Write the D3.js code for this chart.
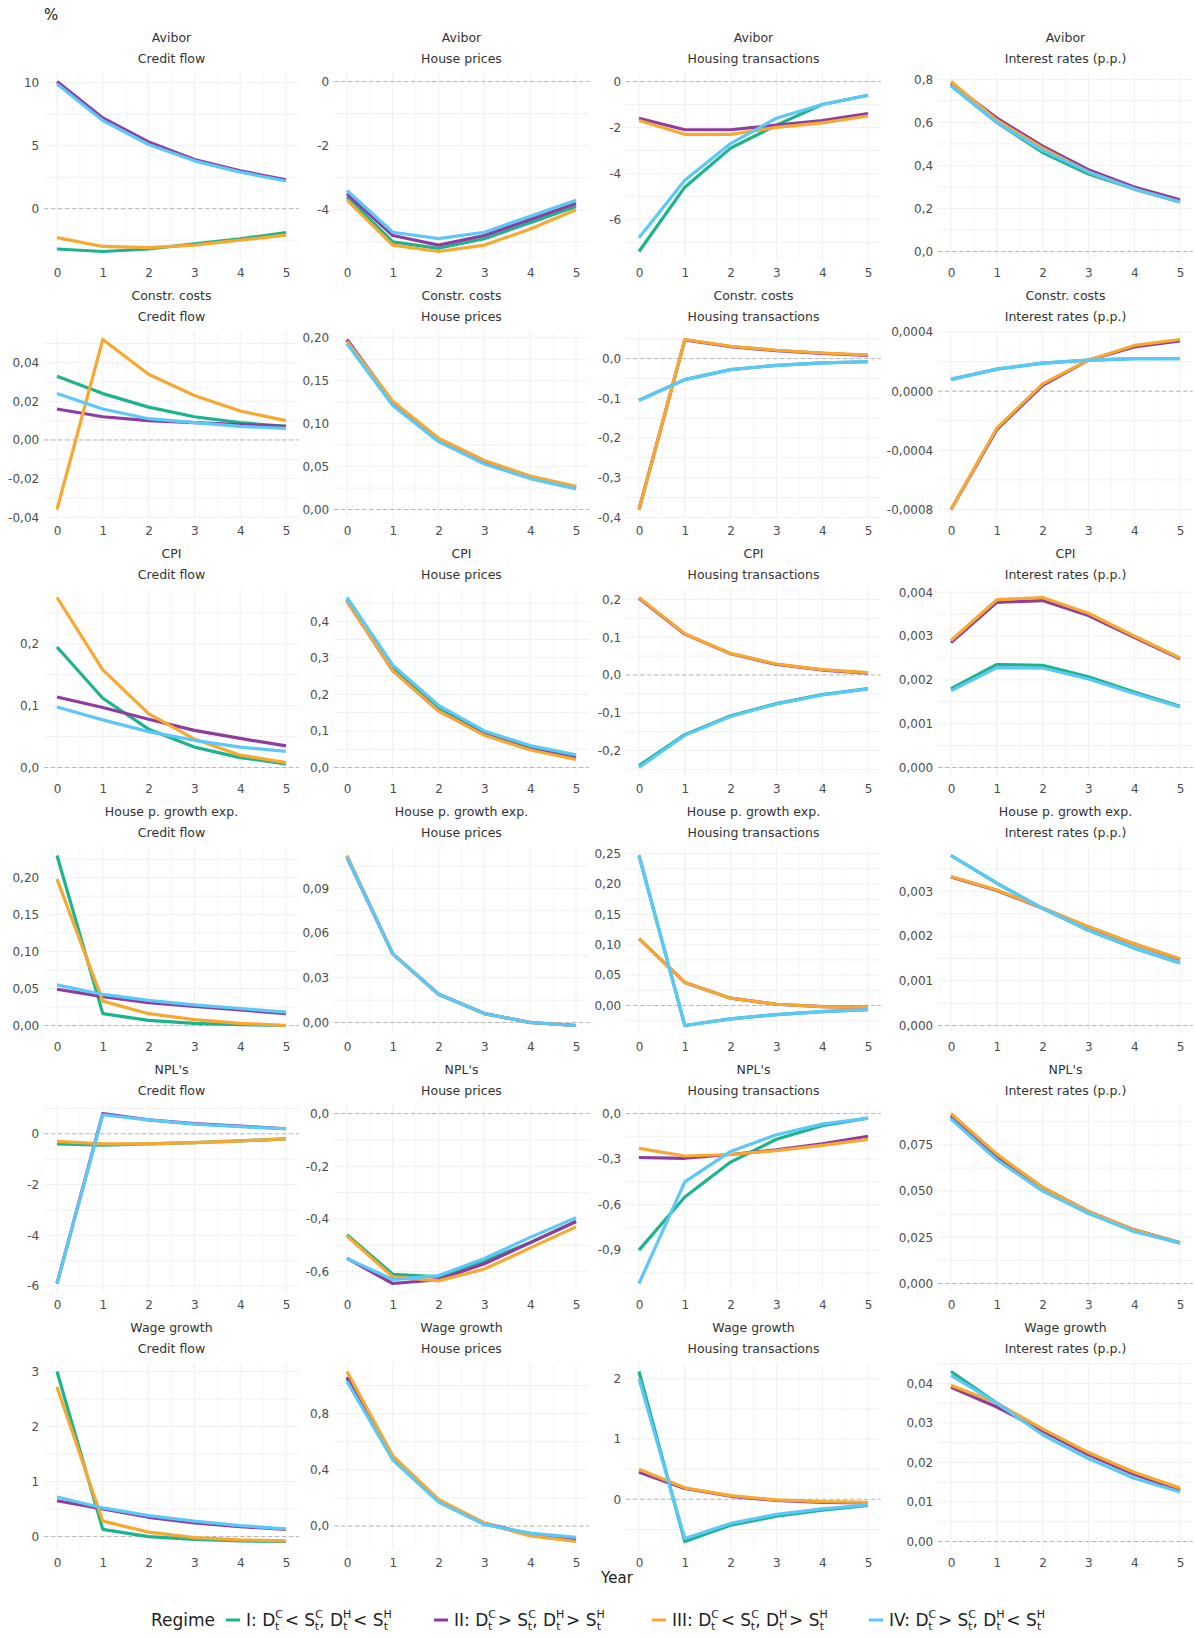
<!DOCTYPE html>
<html><head><meta charset="utf-8">
<script src="https://cdn.jsdelivr.net/npm/d3@7"></script>
<style>
body{margin:0;background:#fff;font-family:"DejaVu Sans",Verdana,sans-serif;}
</style></head>
<body><div id="chart"></div>
<script>
var years = [0, 1, 2, 3, 4, 5];
var shocks = ["Avibor", "Constr. costs", "CPI", "House p. growth exp.", "NPL's", "Wage growth"];
var responses = ["Credit flow", "House prices", "Housing transactions", "Interest rates (p.p.)"];
var regimes = ["I", "II", "III", "IV"];
var colors = ["#1db38c", "#8e3c9e", "#f7a830", "#5cc8f7"];

// values[row][col] = [I, II, III, IV]
var avibor = [
  [[-3.2,-3.4,-3.2,-2.8,-2.4,-1.9],[10.1,7.2,5.3,3.9,3.0,2.3],[-2.3,-3.0,-3.1,-2.9,-2.5,-2.1],[9.9,7.0,5.1,3.8,2.9,2.2]],
  [[-3.6,-5.0,-5.2,-4.9,-4.4,-3.9],[-3.5,-4.8,-5.1,-4.8,-4.3,-3.8],[-3.7,-5.1,-5.3,-5.1,-4.6,-4.0],[-3.4,-4.7,-4.9,-4.7,-4.2,-3.7]],
  [[-7.4,-4.6,-2.9,-1.9,-1.0,-0.6],[-1.6,-2.1,-2.1,-1.9,-1.7,-1.4],[-1.7,-2.3,-2.3,-2.0,-1.8,-1.5],[-6.8,-4.3,-2.7,-1.6,-1.0,-0.6]],
  [[0.77,0.60,0.46,0.36,0.29,0.23],[0.78,0.62,0.49,0.38,0.30,0.24],[0.79,0.61,0.48,0.37,0.29,0.23],[0.77,0.60,0.47,0.37,0.29,0.23]]
];
var constr = [
  [[0.033,0.024,0.017,0.012,0.009,0.007],[0.016,0.012,0.010,0.009,0.008,0.007],[-0.036,0.052,0.034,0.023,0.015,0.010],[0.024,0.016,0.011,0.009,0.007,0.006]],
  [[0.197,0.124,0.082,0.055,0.038,0.026],[0.198,0.125,0.082,0.056,0.038,0.026],[0.196,0.126,0.083,0.057,0.039,0.027],[0.193,0.121,0.079,0.053,0.036,0.024]],
  [[-0.105,-0.053,-0.028,-0.017,-0.011,-0.008],[-0.38,0.047,0.030,0.020,0.013,0.008],[-0.38,0.048,0.031,0.021,0.014,0.009],[-0.105,-0.053,-0.028,-0.017,-0.011,-0.008]],
  [[0.00008,0.00015,0.00019,0.00021,0.00022,0.00022],[-0.0008,-0.00026,0.00004,0.00021,0.00030,0.00034],[-0.0008,-0.00025,0.00005,0.00021,0.00031,0.00035],[0.00008,0.00015,0.00019,0.00021,0.00022,0.00022]]
];
var cpi = [
  [[0.195,0.112,0.062,0.033,0.016,0.006],[0.114,0.097,0.078,0.060,0.047,0.035],[0.275,0.158,0.087,0.046,0.020,0.008],[0.098,0.077,0.058,0.044,0.033,0.026]],
  [[0.46,0.27,0.16,0.095,0.055,0.03],[0.455,0.265,0.155,0.09,0.05,0.025],[0.455,0.265,0.155,0.088,0.048,0.022],[0.465,0.28,0.17,0.10,0.06,0.035]],
  [[-0.24,-0.158,-0.108,-0.076,-0.052,-0.036],[0.203,0.108,0.056,0.028,0.013,0.005],[0.205,0.109,0.057,0.029,0.014,0.006],[-0.245,-0.16,-0.11,-0.077,-0.053,-0.037]],
  [[0.0018,0.00235,0.00233,0.00207,0.00172,0.0014],[0.00285,0.00377,0.00381,0.00347,0.00297,0.00248],[0.0029,0.00383,0.00388,0.00352,0.003,0.0025],[0.00175,0.00228,0.00227,0.00202,0.00169,0.00138]]
];
var hpexp = [
  [[0.23,0.016,0.007,0.003,0.001,0.0],[0.049,0.039,0.031,0.026,0.021,0.016],[0.198,0.033,0.016,0.008,0.003,0.0],[0.055,0.042,0.034,0.028,0.023,0.018]],
  [[0.111,0.046,0.019,0.006,0.0,-0.002],[0.111,0.046,0.019,0.006,0.0,-0.002],[0.112,0.046,0.019,0.006,0.0,-0.002],[0.111,0.046,0.019,0.006,0.0,-0.002]],
  [[0.247,-0.033,-0.022,-0.015,-0.010,-0.007],[0.11,0.038,0.012,0.002,-0.002,-0.003],[0.11,0.038,0.012,0.002,-0.002,-0.003],[0.247,-0.033,-0.022,-0.015,-0.010,-0.007]],
  [[0.0038,0.00318,0.00262,0.00213,0.00173,0.0014],[0.00332,0.00302,0.00262,0.0022,0.00182,0.00148],[0.00333,0.00303,0.00263,0.00221,0.00183,0.00149],[0.0038,0.00318,0.00262,0.00213,0.00173,0.0014]]
];
var npl = [
  [[-0.4,-0.45,-0.4,-0.35,-0.28,-0.2],[-5.9,0.8,0.55,0.4,0.3,0.2],[-0.3,-0.4,-0.4,-0.35,-0.28,-0.2],[-5.9,0.75,0.55,0.38,0.28,0.2]],
  [[-0.46,-0.61,-0.62,-0.56,-0.49,-0.41],[-0.55,-0.645,-0.63,-0.57,-0.49,-0.41],[-0.465,-0.62,-0.635,-0.59,-0.51,-0.43],[-0.55,-0.63,-0.615,-0.55,-0.47,-0.395]],
  [[-0.9,-0.55,-0.32,-0.17,-0.08,-0.03],[-0.29,-0.295,-0.27,-0.24,-0.2,-0.15],[-0.23,-0.28,-0.27,-0.245,-0.21,-0.17],[-1.12,-0.45,-0.25,-0.14,-0.07,-0.03]],
  [[0.09,0.068,0.051,0.038,0.029,0.022],[0.091,0.069,0.052,0.039,0.029,0.022],[0.092,0.07,0.052,0.039,0.029,0.022],[0.089,0.067,0.05,0.038,0.028,0.022]]
];
var wage = [
  [[3.0,0.13,0.0,-0.05,-0.08,-0.09],[0.65,0.5,0.35,0.25,0.18,0.13],[2.72,0.28,0.08,-0.02,-0.06,-0.08],[0.72,0.52,0.38,0.28,0.2,0.14]],
  [[1.05,0.48,0.18,0.02,-0.06,-0.09],[1.06,0.49,0.18,0.02,-0.06,-0.1],[1.1,0.5,0.19,0.02,-0.07,-0.11],[1.03,0.47,0.17,0.01,-0.05,-0.08]],
  [[2.12,-0.7,-0.43,-0.28,-0.18,-0.1],[0.45,0.18,0.05,-0.02,-0.05,-0.06],[0.5,0.19,0.06,-0.01,-0.04,-0.05],[2.0,-0.65,-0.4,-0.25,-0.16,-0.09]],
  [[0.043,0.035,0.028,0.022,0.017,0.013],[0.039,0.034,0.028,0.022,0.017,0.013],[0.0395,0.035,0.0285,0.0225,0.0175,0.0135],[0.042,0.035,0.027,0.021,0.016,0.0125]]
];
var values = [avibor, constr, cpi, hpexp, npl, wage];

// y tick values and decimals per panel
var yTicks = [
  [[0,5,10],[-4,-2,0],[-6,-4,-2,0],[0,0.2,0.4,0.6,0.8]],
  [[-0.04,-0.02,0,0.02,0.04],[0,0.05,0.1,0.15,0.2],[-0.4,-0.3,-0.2,-0.1,0],[-0.0008,-0.0004,0,0.0004]],
  [[0,0.1,0.2],[0,0.1,0.2,0.3,0.4],[-0.2,-0.1,0,0.1,0.2],[0,0.001,0.002,0.003,0.004]],
  [[0,0.05,0.1,0.15,0.2],[0,0.03,0.06,0.09],[0,0.05,0.1,0.15,0.2,0.25],[0,0.001,0.002,0.003]],
  [[-6,-4,-2,0],[-0.6,-0.4,-0.2,0],[-0.9,-0.6,-0.3,0],[0,0.025,0.05,0.075]],
  [[0,1,2,3],[0,0.4,0.8],[0,1,2],[0,0.01,0.02,0.03,0.04]]
];
var yDecimals = [[0,0,0,1],[2,2,1,4],[1,1,1,3],[2,2,2,3],[0,1,1,3],[0,1,0,2]];

var W = 1195, H = 1638;
var locale = d3.formatLocale({decimal: ",", thousands: ".", grouping: [3], currency: ["", ""], minus: "-"});

var svg = d3.select("#chart").append("svg").attr("width", W).attr("height", H);

svg.append("text").attr("x", 44).attr("y", 20).attr("font-size", 15).attr("fill", "#222").text("%");

var colX0 = [57, 347, 639, 951], plotW = 229;
var rowH = 258;

shocks.forEach(function(shock, r) {
  responses.forEach(function(resp, c) {
    var top = 42 + r * rowH;
    var g = svg.append("g");
    var x = d3.scaleLinear().domain([0, 5]).range([colX0[c], colX0[c] + plotW]);
    var all = d3.merge(values[r][c]).concat([0]);
    var ext = d3.extent(all), pad = (ext[1] - ext[0]) * 0.05;
    var y = d3.scaleLinear().domain([ext[0] - pad, ext[1] + pad]).range([top + 218, top + 31]);
    var x1 = x(-0.28), x2 = x(5.28);
    var fmt = locale.format("." + yDecimals[r][c] + "f");
    var ticks = yTicks[r][c].filter(function(t) { return t >= y.domain()[0] && t <= y.domain()[1]; });

    g.append("text").attr("x", (x1 + x2) / 2).attr("y", top).attr("text-anchor", "middle")
      .attr("font-size", 12.5).attr("fill", "#333").text(shock);
    g.append("text").attr("x", (x1 + x2) / 2).attr("y", top + 21).attr("text-anchor", "middle")
      .attr("font-size", 12.5).attr("fill", "#333").text(resp);

    // grid (major + minor)
    var minorX = d3.range(0.5, 5, 1);
    g.selectAll(".gx").data(years.concat(minorX)).join("line")
      .attr("x1", function(d) { return x(d); }).attr("x2", function(d) { return x(d); })
      .attr("y1", y.range()[1]).attr("y2", y.range()[0])
      .attr("stroke", "#f0f0f0").attr("stroke-width", function(d) { return d % 1 ? 0.6 : 1; });
    var step = ticks.length > 1 ? ticks[1] - ticks[0] : 1;
    var minorY = ticks.map(function(t) { return t + step / 2; }).concat([ticks[0] - step / 2])
      .filter(function(t) { return t >= y.domain()[0] && t <= y.domain()[1]; });
    g.selectAll(".gy").data(ticks.concat(minorY)).join("line")
      .attr("x1", x1).attr("x2", x2)
      .attr("y1", function(d) { return y(d); }).attr("y2", function(d) { return y(d); })
      .attr("stroke", "#f0f0f0").attr("stroke-width", 1);

    // zero line
    g.append("line").attr("x1", x1).attr("x2", x2).attr("y1", y(0)).attr("y2", y(0))
      .attr("stroke", "#b5b5b5").attr("stroke-dasharray", "4,3");

    var yAxis = d3.axisLeft(y).tickValues(ticks).tickFormat(fmt).tickSize(0).tickPadding(5);
    g.append("g").attr("transform", "translate(" + x1 + ",0)").call(yAxis)
      .call(function(a) { a.select(".domain").remove(); })
      .selectAll("text").attr("font-size", 12).attr("fill", "#4d4d4d").attr("font-family", "DejaVu Sans, Verdana, sans-serif");

    var xAxis = d3.axisBottom(x).tickValues(years).tickFormat(d3.format("d")).tickSize(0).tickPadding(3);
    g.append("g").attr("transform", "translate(0," + (top + 223) + ")").call(xAxis)
      .call(function(a) { a.select(".domain").remove(); })
      .selectAll("text").attr("font-size", 12).attr("fill", "#4d4d4d").attr("font-family", "DejaVu Sans, Verdana, sans-serif");

    var line = d3.line().x(function(d, i) { return x(years[i]); }).y(function(d) { return y(d); });
    values[r][c].forEach(function(s, k) {
      g.append("path").datum(s).attr("d", line).attr("fill", "none")
        .attr("stroke", colors[k]).attr("stroke-width", 3.2).attr("stroke-linejoin", "round");
    });
  });
});

svg.append("text").attr("x", 617).attr("y", 1583).attr("text-anchor", "middle")
  .attr("font-size", 15).attr("fill", "#222").text("Year");

// legend
var legendLabels = [
  ["I: ", "<", "<"], ["II: ", ">", ">"], ["III: ", "<", ">"], ["IV: ", ">", "<"]
];
var leg = svg.append("g").attr("font-size", 17).attr("fill", "#222");
leg.append("text").attr("x", 151).attr("y", 1626).text("Regime");
var legX = [226, 434, 652, 869];
legendLabels.forEach(function(l, k) {
  var lx = legX[k];
  leg.append("line").attr("x1", lx).attr("x2", lx + 14).attr("y1", 1620).attr("y2", 1620)
    .attr("stroke", colors[k]).attr("stroke-width", 3);
  var t = leg.append("text").attr("x", lx + 20).attr("y", 1626);
  function term(letter, sup, after) {
    t.append("tspan").text(letter);
    t.append("tspan").attr("font-size", 11).attr("dy", -8).text(sup);
    t.append("tspan").attr("font-size", 11).attr("dx", -8).attr("dy", 12).text("t");
    t.append("tspan").attr("dy", -4).text(after);
  }
  t.append("tspan").text(l[0]);
  term("D", "C", " " + l[1] + " ");
  term("S", "C", ", ");
  term("D", "H", " " + l[2] + " ");
  term("S", "H", "");
});
</script></body></html>
